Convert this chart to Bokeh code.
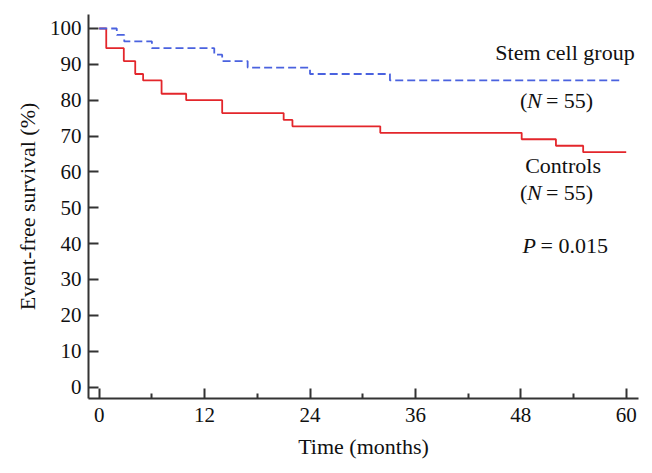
from bokeh.plotting import figure
from bokeh.models import Range1d, FixedTicker, Label
from bokeh.embed import file_html
from bokeh.resources import INLINE

# Kaplan-Meier data
control_time = [0, 0.8, 2.8, 4.1, 5.0, 7.1, 9.9, 14.0, 21.0, 22.0, 32.0, 48.1, 52.0, 55.1, 60.0]
control_surv = [100, 94.5, 90.9, 87.3, 85.5, 81.8, 80.0, 76.4, 74.5, 72.7, 70.9, 69.1, 67.3, 65.5, 65.5]

stem_time = [0, 2.0, 2.85, 6.0, 13.1, 14.0, 16.9, 24.0, 33.1, 59.5]
stem_surv = [100, 98.2, 96.4, 94.5, 92.7, 90.9, 89.1, 87.3, 85.5, 85.5]

x_ticks = [0, 12, 24, 36, 48, 60]
x_minor = [6, 18, 30, 42, 54]
y_ticks = [0, 10, 20, 30, 40, 50, 60, 70, 80, 90, 100]

FONT = "'Liberation Serif', serif"
FS = "22px"
TFS = "21px"

p = figure(width=652, height=473, output_backend="svg", toolbar_location=None,
           x_range=Range1d(-1.22, 61.4), y_range=Range1d(-3.2, 103.9))
p.min_border_left = 88
p.min_border_right = 14
p.min_border_top = 14
p.min_border_bottom = 75
p.outline_line_color = None
p.grid.visible = False
p.background_fill_color = "white"

p.step(control_time, control_surv, mode="after", line_color="#e3262b", line_width=1.8)
p.step(stem_time, stem_surv, mode="after", line_color="#4a62df", line_width=1.8,
       line_dash="8 4")

for ax in (p.xaxis[0], p.yaxis[0]):
    ax.axis_line_color = "#333333"
    ax.axis_line_width = 2
    ax.major_tick_line_color = "#333333"
    ax.major_tick_line_width = 2
    ax.minor_tick_line_color = "#333333"
    ax.minor_tick_line_width = 2
    ax.major_tick_in = 10
    ax.major_tick_out = 0
    ax.major_label_text_font = FONT
    ax.major_label_text_font_size = TFS
    ax.major_label_text_color = "#111111"
    ax.axis_label_text_font = FONT
    ax.axis_label_text_font_size = FS
    ax.axis_label_text_font_style = "normal"
    ax.axis_label_text_color = "#111111"

p.xaxis.ticker = FixedTicker(ticks=x_ticks, minor_ticks=x_minor)
p.xaxis.minor_tick_in = 5
p.xaxis.minor_tick_out = 0
p.xaxis.major_label_standoff = 9
p.xaxis.axis_label = "Time (months)"
p.xaxis.axis_label_standoff = 9

p.yaxis.ticker = FixedTicker(ticks=y_ticks, minor_ticks=[])
p.yaxis.minor_tick_in = 0
p.yaxis.minor_tick_out = 0
p.yaxis.major_label_standoff = 7
p.yaxis.axis_label = "Event-free survival (%)"
p.yaxis.axis_label_standoff = 7

def lab(x, y, text, style="normal", xo=0):
    p.add_layout(Label(x=x, y=y, text=text, x_offset=xo, text_font=FONT,
                       text_font_size=FS, text_font_style=style,
                       text_color="#111111", text_baseline="middle"))

def n_label(x, y):
    lab(x, y, "(")
    lab(x, y, "N", "italic", 7)
    lab(x, y, "= 55)", "normal", 26)

lab(45.1, 93.3, "Stem cell group")
n_label(47.9, 79.9)
lab(48.5, 61.8, "Controls")
n_label(47.9, 54.3)
lab(48.2, 39.5, "P", "italic")
lab(48.2, 39.5, "= 0.015", "normal", 18)

open("out.html", "w").write(file_html(p, INLINE))
